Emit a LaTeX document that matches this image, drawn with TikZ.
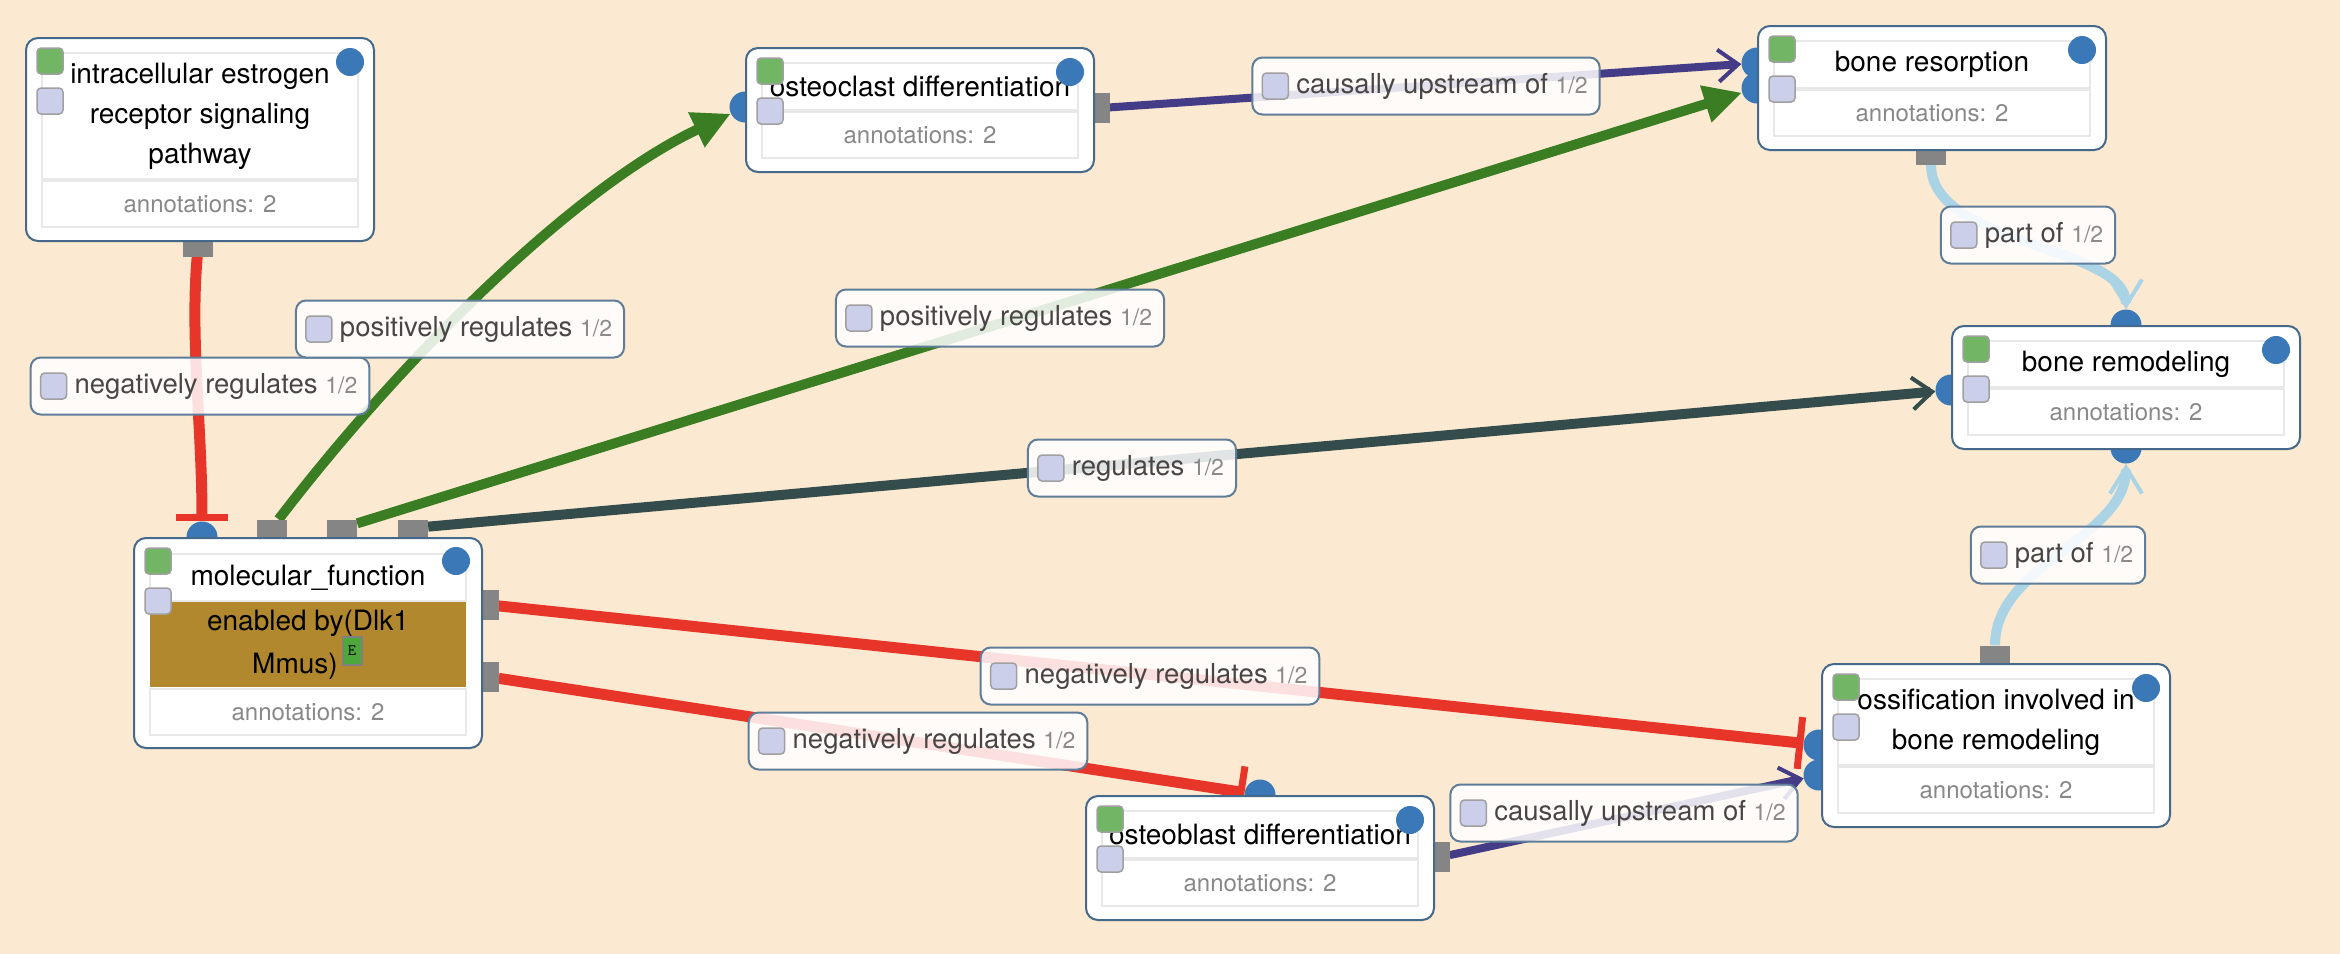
\documentclass[tikz,border=0pt]{standalone}
\usepackage{fontspec}
\setmainfont{TeX Gyre Heros}
\usetikzlibrary{arrows.meta}
\usetikzlibrary{shapes}

\definecolor{bgpeach}{HTML}{FBEAD1}
\definecolor{boxblue}{HTML}{44698A}
\definecolor{dotblue}{HTML}{3A78B8}
\definecolor{sqgreen}{HTML}{72B565}
\definecolor{sqlav}{HTML}{CCCFEA}
\definecolor{sqborder}{HTML}{A0A0A0}
\definecolor{portgray}{HTML}{858585}
\definecolor{innergray}{HTML}{E8E8E8}
\definecolor{anngray}{HTML}{888888}
\definecolor{labtext}{HTML}{4A4545}
\definecolor{fracgray}{HTML}{8A8A8A}
\definecolor{labblue}{HTML}{5F7D99}
\definecolor{bandbrown}{HTML}{B2882F}
\definecolor{egreen}{HTML}{4CA83A}
\definecolor{negred}{HTML}{E8352A}
\definecolor{posgreen}{HTML}{3A7D22}
\definecolor{regslate}{HTML}{344C4B}
\definecolor{cuppurple}{HTML}{443C86}
\definecolor{partblue}{HTML}{AAD4E6}

\pgfdeclarelayer{bg}
\pgfdeclarelayer{edges}
\pgfsetlayers{bg,edges,main}

\tikzset{
  gobox/.style={draw=boxblue, line width=2pt, rounded corners=12pt, fill=white,
    minimum width=348pt, inner sep=0pt},
  gotitle/.style={draw=innergray, line width=2pt, fill=white, minimum width=316pt,
    inner sep=0pt, align=center, font=\fontsize{28}{40}\selectfont},
  goann/.style={draw=innergray, line width=2pt, minimum width=316pt, minimum height=46pt,
    inner sep=0pt, text=anngray, font=\fontsize{24}{24}\selectfont},
  band/.style={fill=bandbrown, minimum width=316pt, minimum height=85pt, inner sep=0pt,
    align=center, font=\fontsize{28}{43}\selectfont},
  ebox/.style={draw=gray, line width=2pt, fill=egreen, minimum width=19pt,
    minimum height=28pt, inner sep=0pt, font=\ttfamily\fontsize{16}{16}\selectfont},
  gsq/.style={draw=sqborder, line width=1.5pt, rounded corners=4pt, fill=sqgreen,
    minimum size=26pt, inner sep=0pt},
  lsq/.style={gsq, fill=sqlav},
  bdot/.style={circle, fill=dotblue, minimum size=31pt, inner sep=0pt},
  gport/.style={fill=portgray, minimum width=30pt, minimum height=17pt, inner sep=0pt},
  gportv/.style={gport, minimum width=17pt, minimum height=30pt},
  elabel/.style={draw=labblue, line width=2pt, rounded corners=10pt, fill=white,
    fill opacity=0.85, text opacity=1, minimum height=57pt, inner xsep=12pt,
    text=labtext, font=\fontsize{27.5}{30}\selectfont},
  negreg/.style={draw=negred, line width=11pt, -{Bar[width=52pt,line width=7pt]}},
  posreg/.style={draw=posgreen, line width=10pt, -{Triangle[length=38pt,width=36pt]}},
  reg/.style={draw=regslate, line width=10pt, -{Straight Barb[length=20pt,width=32pt,line width=4pt]}},
  cup/.style={draw=cuppurple, line width=8pt, -{Straight Barb[length=20pt,width=32pt,line width=4pt]}},
  partof/.style={draw=partblue, line width=10pt, -{Straight Barb[length=26pt,width=32pt,line width=4pt]}}
}

\begin{document}
\begin{tikzpicture}[x=1pt,y=-1pt]
  \begin{pgfonlayer}{bg}
    \fill[bgpeach] (0,0) rectangle (2340,954);
  \end{pgfonlayer}
  \useasboundingbox (0,0) rectangle (2340,954);

  % ports
  \node[bdot] (mf-in) at (202,537) {};
  \node[bdot] (ocd-in) at (745,107) {};
  \node[bdot] (bres-in1) at (1757,63) {};
  \node[bdot] (bres-in2) at (1757,88) {};
  \node[bdot] (brem-in) at (1951,390) {};
  \node[bdot] (brem-top) at (2126,325) {};
  \node[bdot] (brem-bot) at (2126,448) {};
  \node[bdot] (oss-in1) at (1819,745) {};
  \node[bdot] (oss-in2) at (1819,775) {};
  \node[bdot] (obd-in) at (1260,795) {};

  \node[gport] (ierp-out) at (198,248) {};
  \node[gport] (mf-o1) at (272,528) {};
  \node[gport] (mf-o2) at (342,528) {};
  \node[gport] (mf-o3) at (413,528) {};
  \node[gportv] (mf-r1) at (490,605) {};
  \node[gportv] (mf-r2) at (490,677) {};
  \node[gportv] (ocd-out) at (1101,108) {};
  \node[gport] (bres-out) at (1931,156) {};
  \node[gport] (oss-out) at (1995,654) {};
  \node[gportv] (obd-out) at (1441,857) {};

  % term boxes
  \foreach \nm/\x/\y/\th/\ttl in {
      ierp/25/37/126/{intracellular estrogen\\receptor signaling\\pathway},
      ocd/745/47/47/{osteoclast differentiation},
      bres/1757/25/47/{bone resorption},
      brem/1951/325/46/{bone remodeling},
      oss/1821/663/86/{ossification involved in\\bone remodeling},
      obd/1085/795/47/{osteoblast differentiation}}
  {
    \node[gobox, minimum height={(\th+77)*1pt}, anchor=north west] (\nm) at (\x,\y) {};
    \node[gotitle, minimum height={\th*1pt}, anchor=north] (\nm-t) at ([yshift=-15pt]\nm.north) {\ttl};
    \node[goann, anchor=north] (\nm-a) at (\nm-t.south) {annotations: 2};
    \node[gsq] (\nm-g) at ([xshift=25pt,yshift=-24pt]\nm.north west) {};
    \node[lsq] (\nm-l) at ([xshift=25pt,yshift=-64pt]\nm.north west) {};
    \node[bdot, minimum size=28pt] (\nm-d) at ([xshift=-25pt,yshift=-25pt]\nm.north east) {};
  }

  \node[gobox, minimum height=210pt, anchor=north west] (mf) at (133,537) {};
  \node[gotitle, minimum height=47pt, anchor=north] (mf-t) at ([yshift=-16pt]mf.north) {molecular\_function};
  \node[band, anchor=north] (mf-b) at (mf-t.south) {enabled by(Dlk1\\Mmus)\hspace*{26pt}};
  \node[goann, anchor=north] (mf-a) at ([yshift=-1pt]mf-b.south) {annotations: 2};
  \node[ebox] (mf-e) at (352,651) {E};
  \node[gsq] (mf-g) at (158,561) {};
  \node[lsq] (mf-l) at (158,601) {};
  \node[bdot, minimum size=28pt] (mf-d) at (456,561) {};

  % connectors
  \begin{pgfonlayer}{edges}
    \foreach \from/\to/\sty in {mf-o2/bres-in2/posreg, mf-o3/brem-in/reg,
        ocd-out/bres-in1/cup, mf-r1/oss-in1/negreg, mf-r2/obd-in/negreg,
        obd-out/oss-in2/cup}
      \draw[\sty] (\from) -- (\to);
    \draw[negreg] (ierp-out) .. controls +(-8,90) and +(0,-110) .. (mf-in);
    \draw[posreg] (mf-o1) .. controls +(130,-170) and +(-170,80) .. (ocd-in);
    \draw[partof] (bres-out) .. controls +(0,90) and +(0,-80) .. (brem-top);
    \draw[partof] (oss-out) .. controls +(0,-90) and +(0,90) .. (brem-bot);
  \end{pgfonlayer}

  % edge labels
  \foreach \nm/\x/\y/\txt in {
      l-neg1/200/386/negatively regulates,
      l-pos1/460/329/positively regulates,
      l-pos2/1000/318/positively regulates,
      l-cup1/1426/86/causally upstream of,
      l-part1/2028/235/part of,
      l-reg/1132/468/regulates,
      l-part2/2058/555/part of,
      l-neg2/1150/676/negatively regulates,
      l-neg3/918/741/negatively regulates,
      l-cup2/1624/813/causally upstream of}
  {
    \node[elabel] (\nm) at (\x,\y) {\hspace*{32pt}\txt\ {\color{fracgray}\fontsize{23}{23}\selectfont 1/2}};
    \node[lsq] (\nm-sq) at ([xshift=24pt]\nm.west) {};
  }
\end{tikzpicture}
\end{document}
